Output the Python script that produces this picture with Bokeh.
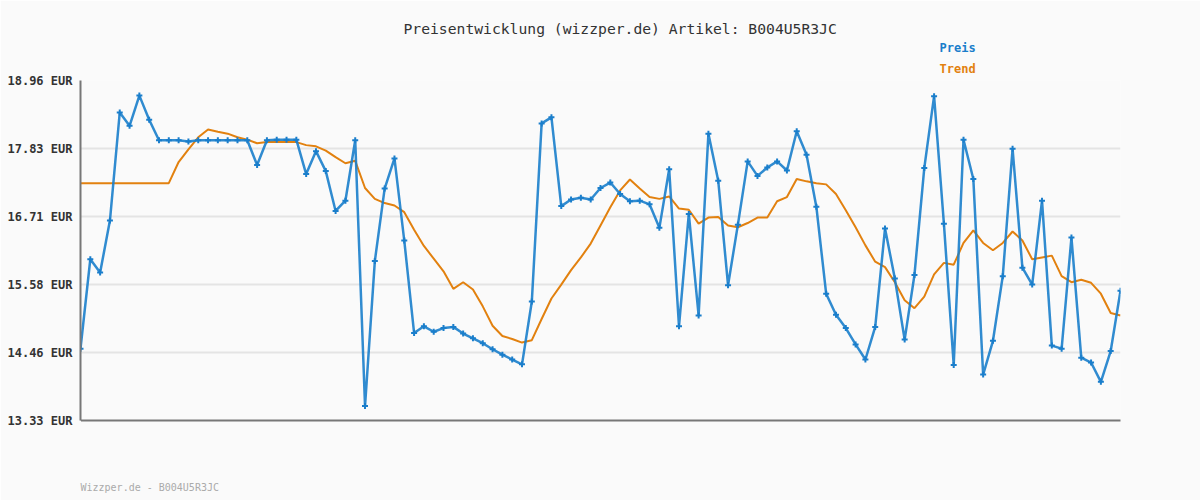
from bokeh.plotting import figure
from bokeh.models import Range1d, FixedTicker, Title, ColumnDataSource
from bokeh.embed import file_html
from bokeh.resources import INLINE

title_text = "Preisentwicklung (wizzper.de) Artikel: B004U5R3JC"
footer_text = "Wizzper.de - B004U5R3JC"
series_names = ["Preis", "Trend"]

tick_values = [13.33, 14.456, 15.582, 16.708, 17.834, 18.96]
tick_labels = ["13.33 EUR", "14.46 EUR", "15.58 EUR", "16.71 EUR", "17.83 EUR", "18.96 EUR"]

price = [14.52, 16.00, 15.78, 16.64, 18.43, 18.21, 18.71, 18.31, 17.97, 17.97,
         17.97, 17.95, 17.97, 17.97, 17.97, 17.97, 17.97, 17.97, 17.56, 17.97,
         17.98, 17.98, 17.98, 17.41, 17.79, 17.46, 16.80, 16.97, 17.97, 13.57,
         15.97, 17.17, 17.67, 16.31, 14.78, 14.89, 14.80, 14.86, 14.88, 14.77,
         14.69, 14.61, 14.51, 14.42, 14.34, 14.26, 15.30, 18.25, 18.35, 16.88,
         16.99, 17.02, 16.99, 17.18, 17.27, 17.08, 16.96, 16.97, 16.91, 16.52,
         17.49, 14.89, 16.75, 15.07, 18.08, 17.30, 15.57, 16.57, 17.62, 17.38,
         17.52, 17.62, 17.47, 18.12, 17.73, 16.87, 15.43, 15.08, 14.86, 14.59,
         14.34, 14.88, 16.51, 15.68, 14.67, 15.74, 17.51, 18.70, 16.59, 14.25,
         17.98, 17.33, 14.09, 14.65, 15.72, 17.83, 15.86, 15.58, 16.97, 14.57,
         14.52, 16.36, 14.37, 14.29, 13.97, 14.48, 15.48]

trend = [17.26, 17.26, 17.26, 17.26, 17.26, 17.26, 17.26, 17.26, 17.26, 17.26,
         17.61, 17.82, 18.02, 18.15, 18.11, 18.08, 18.02, 17.98, 17.92, 17.94,
         17.94, 17.94, 17.94, 17.89, 17.87, 17.80, 17.69, 17.59, 17.63, 17.18,
         17.00, 16.93, 16.89, 16.78, 16.49, 16.22, 16.01, 15.80, 15.51, 15.62,
         15.50, 15.22, 14.90, 14.73, 14.68, 14.62, 14.66, 15.01, 15.35, 15.58,
         15.82, 16.03, 16.26, 16.56, 16.86, 17.14, 17.32, 17.17, 17.03, 17.00,
         17.04, 16.84, 16.82, 16.59, 16.69, 16.70, 16.56, 16.53, 16.60, 16.69,
         16.69, 16.96, 17.03, 17.33, 17.29, 17.26, 17.24, 17.08, 16.81, 16.53,
         16.23, 15.96, 15.87, 15.62, 15.32, 15.19, 15.38, 15.75, 15.94, 15.91,
         16.27, 16.48, 16.27, 16.15, 16.27, 16.46, 16.31, 16.00, 16.03, 16.06,
         15.72, 15.62, 15.66, 15.61, 15.43, 15.11, 15.07]

idx = list(range(len(price)))

BLUE = "#1a7ecb"
ORANGE = "#e2810f"
BG = "#fafafa"
MONO = "DejaVu Sans Mono"

src = ColumnDataSource(dict(x=idx, price=price, trend=trend))

p = figure(width=1200, height=500, output_backend="svg", toolbar_location=None, title=None,
           x_range=Range1d(0, len(price) - 1), y_range=Range1d(tick_values[0], tick_values[-1]),
           min_border_left=80, min_border_right=80, min_border_top=80, min_border_bottom=80)
p.background_fill_color = BG
p.border_fill_color = BG
p.outline_line_color = None

p.xgrid.visible = False
p.ygrid.grid_line_color = "#e4e4e4"
p.ygrid.grid_line_width = 2

p.yaxis.ticker = FixedTicker(ticks=tick_values)
p.yaxis.major_label_overrides = {v: l for v, l in zip(tick_values, tick_labels)}
p.yaxis.major_tick_line_color = None
p.yaxis.minor_tick_line_color = None
p.yaxis.major_tick_out = 0
p.yaxis.major_tick_in = 0
p.yaxis.major_label_standoff = 8
p.yaxis.axis_line_color = "#777777"
p.yaxis.axis_line_width = 2
p.yaxis.major_label_text_font = MONO
p.yaxis.major_label_text_font_size = "12px"
p.yaxis.major_label_text_font_style = "bold"
p.yaxis.major_label_text_color = "#333333"

# single invisible tick only to reserve the space below the frame for the footer
p.xaxis.ticker = FixedTicker(ticks=[0])
p.xaxis.major_label_overrides = {0: ""}
p.xaxis.major_tick_line_color = BG
p.xaxis.minor_tick_line_color = None
p.xaxis.major_tick_out = 55
p.xaxis.major_tick_in = 0
p.xaxis.major_label_standoff = 0
p.xaxis.major_label_text_font_size = "1px"
p.xaxis.axis_line_color = "#777777"
p.xaxis.axis_line_width = 2

p.line("x", "trend", source=src, line_color=ORANGE, line_width=2)
p.line("x", "price", source=src, line_color=BLUE, line_width=2.5, line_alpha=0.9)
p.scatter("x", "price", source=src, marker="cross", size=6, line_color=BLUE, line_width=2)

def side_title(text, side, offset, size, color, style, standoff):
    p.add_layout(Title(text=text, align="left", offset=offset, text_font=MONO,
                       text_font_size=size, text_font_style=style, text_color=color,
                       standoff=standoff), side)

side_title(series_names[1], "above", 859, "12px", ORANGE, "bold", 10)
side_title(series_names[0], "above", 859, "12px", BLUE, "bold", 0)
side_title(title_text, "above", 323, "14.7px", "#333333", "normal", 3)
side_title(footer_text, "below", 0, "10px", "#aaaaaa", "normal", 8)

open("out.html", "w").write(file_html(p, INLINE))
